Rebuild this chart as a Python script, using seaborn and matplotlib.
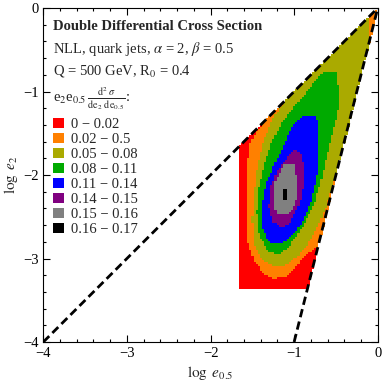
import matplotlib
matplotlib.use('Agg')
import matplotlib.pyplot as plt
import numpy as np
import seaborn as sns
from matplotlib.colors import ListedColormap
from matplotlib.patches import Patch
from matplotlib.path import Path
from matplotlib.ticker import MultipleLocator

# legend bins and colours
level_labels = ['0 − 0.02', '0.02 − 0.5', '0.05 − 0.08', '0.08 − 0.11',
                '0.11 − 0.14', '0.14 − 0.15', '0.15 − 0.16', '0.16 − 0.17']
level_colors = ['#ff0000', '#ff8000', '#aaaa00', '#00aa00',
                '#0000ff', '#800080', '#808080', '#000000']

# kinematic boundaries (log e0.5, log e2)
diag_x = [-4, 0]
diag_y = [-4, 0]
steep_x = [-1, 0]
steep_y = [-4, 0]

# cut of the shown region and cell size of the density plot
region_left = -1.66
region_bottom = -3.37
cell = 0.025

# outlines of each bin (log e0.5, log e2)
orange_edge = [(0.5, 0.5), (-1.5, 0.5), (-1.5, -1.0), (-1.30, -1.30), (-1.45, -1.48),
               (-1.53, -1.64), (-1.56, -1.90), (-1.57, -2.20), (-1.57, -2.50),
               (-1.55, -2.80), (-1.48, -3.03), (-1.36, -3.18), (-1.24, -3.24),
               (-1.10, -3.21), (-0.98, -3.10), (-0.88, -2.97), (-0.76, -2.88),
               (-0.60, -2.86), (0.5, -2.0)]
olive_edge = [(-0.13, 0.5), (-0.12, -0.2), (-0.105, -0.44), (0.3, -0.6), (0.3, -1.9),
              (-0.49, -1.98), (-0.55, -2.15), (-0.62, -2.38), (-0.70, -2.58),
              (-0.82, -2.80), (-0.96, -2.98), (-1.10, -3.08), (-1.24, -3.10),
              (-1.37, -3.03), (-1.47, -2.86), (-1.50, -2.55), (-1.48, -2.20),
              (-1.44, -1.90), (-1.37, -1.60), (-1.26, -1.33), (-1.12, -1.12),
              (-1.00, -0.98), (-1.5, -0.9), (-1.5, 0.5)]
green_edge = [(-0.65, -0.76), (-0.49, -0.76), (-0.47, -0.95), (-0.45, -1.10),
              (-0.50, -1.35), (-0.57, -1.60), (-0.64, -1.90), (-0.69, -2.12),
              (-0.76, -2.35), (-0.86, -2.55), (-0.98, -2.75), (-1.08, -2.88),
              (-1.20, -2.95), (-1.32, -2.90), (-1.42, -2.72), (-1.45, -2.45),
              (-1.42, -2.12), (-1.35, -1.85), (-1.27, -1.62), (-1.15, -1.38),
              (-1.00, -1.18), (-0.88, -1.05), (-0.76, -0.88)]
blue_edge = [(-0.89, -1.29), (-0.73, -1.29), (-0.71, -1.45), (-0.71, -1.90),
             (-0.74, -2.10), (-0.79, -2.30), (-0.88, -2.52), (-0.99, -2.70),
             (-1.10, -2.80), (-1.20, -2.83), (-1.31, -2.80), (-1.38, -2.62),
             (-1.39, -2.40), (-1.34, -2.12), (-1.21, -1.82), (-1.10, -1.60),
             (-1.03, -1.42), (-0.94, -1.33)]
purple_edge = [(-0.99, -1.70), (-0.93, -1.72), (-0.89, -1.86), (-0.89, -2.14),
               (-0.93, -2.32), (-1.00, -2.48), (-1.07, -2.60), (-1.17, -2.62),
               (-1.26, -2.55), (-1.30, -2.38), (-1.28, -2.15), (-1.20, -1.95),
               (-1.09, -1.80)]
gray_edge = [(-1.13, -1.88), (-0.99, -1.88), (-0.97, -2.00), (-0.97, -2.30),
             (-1.02, -2.42), (-1.09, -2.48), (-1.21, -2.48), (-1.24, -2.35),
             (-1.23, -2.10), (-1.17, -1.96)]
black_edge = [(-1.145, -2.165), (-1.095, -2.165), (-1.095, -2.295), (-1.145, -2.295)]

bin_edges = [orange_edge, olive_edge, green_edge, blue_edge,
             purple_edge, gray_edge, black_edge]

sns.set_theme(style='ticks')
plt.rcParams['font.family'] = ['Liberation Serif', 'DejaVu Serif']
plt.rcParams['mathtext.fontset'] = 'stix'
plt.rcParams['axes.unicode_minus'] = True

fig = plt.figure(figsize=(3.82, 3.82), dpi=100)
ax = fig.add_axes([0.1134, 0.1047, 0.8754, 0.8743])

# density cells
xe = np.arange(region_left, 0.01, cell)
ye = np.arange(region_bottom, 0.01, cell)
xc, yc = np.meshgrid((xe[:-1] + xe[1:]) / 2, (ye[:-1] + ye[1:]) / 2)
pts = np.column_stack([xc.ravel(), yc.ravel()])
level = np.zeros(len(pts))
for k, edge in enumerate(bin_edges, start=1):
    level = np.where(Path(edge).contains_points(pts), np.maximum(level, k), level)
level = level.reshape(xc.shape)
upper = np.interp(xc, diag_x, diag_y)
lower = np.interp(xc, steep_x, steep_y)
inside = (yc <= upper + cell * 0.5) & (yc >= lower - cell * 1.5)
z = np.ma.masked_where(~inside, level)
ax.pcolormesh(xe, ye, z, cmap=ListedColormap(level_colors), vmin=-0.5, vmax=7.5,
              edgecolors='face', linewidth=0)

# boundary lines
sns.lineplot(x=diag_x, y=diag_y, ax=ax, color='black', linewidth=2,
             linestyle=(0, (3, 1.6)))
sns.lineplot(x=steep_x, y=steep_y, ax=ax, color='black', linewidth=2,
             linestyle=(0, (3, 1.6)))

ax.set_xlim(-4, 0)
ax.set_ylim(-4, 0)
ax.xaxis.set_major_locator(MultipleLocator(1))
ax.yaxis.set_major_locator(MultipleLocator(1))
ax.xaxis.set_minor_locator(MultipleLocator(0.2))
ax.yaxis.set_minor_locator(MultipleLocator(0.2))
ax.tick_params(which='both', direction='in', top=True, right=True,
               labelsize=10.5, colors='black', width=0.8)
ax.tick_params(which='major', length=5)
ax.tick_params(which='minor', length=2.5)
for s in ax.spines.values():
    s.set_color('black')
    s.set_linewidth(0.8)
ax.set_xlabel(r'$\log\ e_{0.5}$', fontsize=11, labelpad=3)
ax.set_ylabel(r'$\log\ e_{2}$', fontsize=11, labelpad=2)

tx = 0.03
ax.text(tx, 0.934, 'Double Differential Cross Section', transform=ax.transAxes,
        fontsize=10.5, fontweight='bold', va='baseline')
ax.text(tx, 0.866, r'NLL, quark jets, $\alpha$ = 2, $\beta$ = 0.5',
        transform=ax.transAxes, fontsize=10.5, va='baseline')
ax.text(tx, 0.800, r'Q = 500 GeV, R$_0$ = 0.4', transform=ax.transAxes,
        fontsize=10.5, va='baseline')
ax.text(tx, 0.729, r'e$_2$e$_{0.5}\,\frac{\mathrm{d}^2\,\sigma}{\mathrm{de}_2\ \mathrm{de}_{0.5}}$:',
        transform=ax.transAxes, fontsize=10.5, va='center')

handles = [Patch(facecolor=c, edgecolor='none', label=l)
           for c, l in zip(level_colors, level_labels)]
ax.legend(handles=handles, loc='upper left', bbox_to_anchor=(0.03, 0.670),
          frameon=False, fontsize=10.5, borderpad=0, borderaxespad=0,
          handlelength=0.7, handleheight=0.7, handletextpad=0.5,
          labelspacing=0.12)

fig.savefig('out.png', dpi=100)
